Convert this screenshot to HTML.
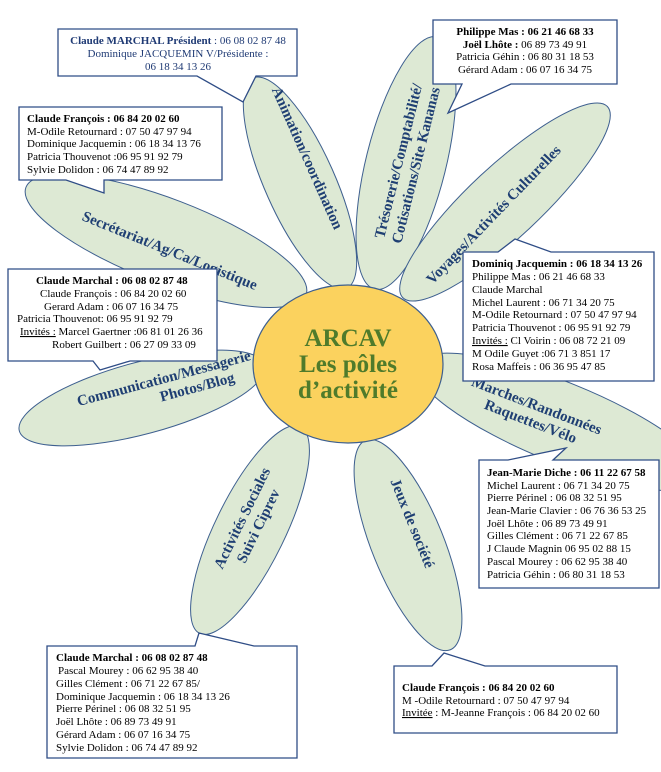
<!DOCTYPE html>
<html><head><meta charset="utf-8"><style>
html,body{margin:0;padding:0;background:#fff}
svg{display:block}
text{font-family:"Liberation Serif",serif}
.t{font-size:11px;fill:#000}
.b{font-weight:bold}
.p{fill:#dde9d4;stroke:#3d5f8f;stroke-width:1}
.bx{fill:#fff;stroke:#2f4d86;stroke-width:1.3}
.pl{font-size:15px;font-weight:bold;fill:#1f3f73}
</style></head><body>
<svg width="661" height="772" viewBox="0 0 661 772" xmlns="http://www.w3.org/2000/svg">
<!-- petals -->
<ellipse class="p" cx="300" cy="183" rx="115" ry="35" transform="rotate(66 300 183)"/>
<ellipse class="p" cx="406" cy="163" rx="130" ry="40" transform="rotate(-76 406 163)"/>
<ellipse class="p" cx="505" cy="202" rx="140" ry="36" transform="rotate(-43 505 202)"/>
<ellipse class="p" cx="166" cy="241" rx="150" ry="42" transform="rotate(21 166 241)"/>
<ellipse class="p" cx="142" cy="398" rx="127" ry="36" transform="rotate(-15 142 398)"/>
<ellipse class="p" cx="560" cy="422" rx="155" ry="40" transform="rotate(22 560 422)"/>
<ellipse class="p" cx="250" cy="530" rx="115" ry="35" transform="rotate(116 250 530)"/>
<ellipse class="p" cx="408" cy="545" rx="113" ry="36" transform="rotate(68 408 545)"/>
<!-- center -->
<ellipse cx="348" cy="364" rx="95" ry="79" fill="#fbd25e" stroke="#3d5f8f" stroke-width="1.2"/>
<g font-family="Liberation Serif,serif" font-weight="bold" font-size="25" fill="#4f7b2b" text-anchor="middle">
<text x="348" y="346">ARCAV</text>
<text x="348" y="372">Les pôles</text>
<text x="348" y="398">d’activité</text>
</g>
<!-- petal labels -->
<text class="pl" text-anchor="middle" transform="translate(303,160) rotate(66)">Animation/coordination</text>
<g transform="translate(407,163) rotate(-76)"><text class="pl" text-anchor="middle" y="-4">Trésorerie/Comptabilité/</text><text class="pl" text-anchor="middle" y="14">Cotisations/Site Kananas</text></g>
<text class="pl" text-anchor="middle" transform="translate(497,218) rotate(-46)">Voyages/Activités Culturelles</text>
<text class="pl" text-anchor="middle" transform="translate(168,255) rotate(22)">Secrétariat/Ag/Ca/Logistique</text>
<g transform="translate(165,383) rotate(-15)"><text class="pl" text-anchor="middle" y="0">Communication/Messagerie</text><text class="pl" text-anchor="middle" x="30" y="17">Photos/Blog</text></g>
<g transform="translate(535,410) rotate(21)"><text class="pl" text-anchor="middle" y="0">Marches/Randonnées</text><text class="pl" text-anchor="middle" y="17">Raquettes/Vélo</text></g>
<g transform="translate(250,522) rotate(-64)"><text class="pl" text-anchor="middle" y="-4">Activités Sociales</text><text class="pl" text-anchor="middle" y="14">Suivi Ciprev</text></g>
<text class="pl" text-anchor="middle" transform="translate(408,525) rotate(68)">Jeux de société</text>

<!-- boxes with tails -->
<path class="bx" d="M58,29 H297 V76 H256 L243,102 L197,76 H58 Z"/>
<path class="bx" d="M433,20 H617 V84 H511 L448,113 L462,84 H433 Z"/>
<path class="bx" d="M19,107 H222 V180 H104 V193 L66,180 H19 Z"/>
<path class="bx" d="M8,269 H217 V361 H130 L100,370 L93,361 H8 Z"/>
<path class="bx" d="M463,252 H498 L515,239 L551,252 H654 V381 H463 Z"/>
<path class="bx" d="M479,460 H508 L566,448 L553,460 H659 V588 H479 Z"/>
<path class="bx" d="M47,646 H195 L199,633 L254,646 H297 V758 H47 Z"/>
<path class="bx" d="M394,666 H432 L444,653 L485,666 H617 V733 H394 Z"/>

<!-- box A -->
<g font-size="11" fill="#1f3a74" text-anchor="middle">
<text x="178" y="44"><tspan font-weight="bold">Claude MARCHAL Président</tspan> : 06 08 02 87 48</text>
<text x="178" y="57">Dominique JACQUEMIN V/Présidente :</text>
<text x="178" y="70">06 18 34 13 26</text>
</g>
<!-- box B -->
<g class="t" text-anchor="middle">
<text class="t" x="525" y="35"><tspan font-weight="bold">Philippe Mas :  06 21 46 68 33</tspan></text>
<text class="t" x="525" y="48"><tspan font-weight="bold">Joël Lhôte :</tspan> 06 89 73 49 91</text>
<text class="t" x="525" y="60">Patricia Géhin : 06 80 31 18 53</text>
<text class="t" x="525" y="73">Gérard Adam : 06 07 16 34 75</text>
</g>
<!-- box C -->
<text class="t b" x="27" y="122">Claude François : 06 84 20 02 60</text>
<text class="t" x="27" y="135">M-Odile Retournard : 07 50 47 97 94</text>
<text class="t" x="27" y="147">Dominique Jacquemin : 06 18 34 13 76</text>
<text class="t" x="27" y="160">Patricia Thouvenot :06 95 91 92 79</text>
<text class="t" x="27" y="173">Sylvie Dolidon : 06 74 47 89 92</text>
<!-- box D -->
<text class="t b" x="36" y="284">Claude Marchal : 06 08 02 87 48</text>
<text class="t" x="40" y="297">Claude François : 06 84 20 02 60</text>
<text class="t" x="44" y="310">Gerard Adam : 06 07 16 34 75</text>
<text class="t" x="17" y="322">Patricia Thouvenot: 06 95 91 92 79</text>
<text class="t" x="20" y="335"><tspan text-decoration="underline">Invités :</tspan> Marcel Gaertner :06 81 01 26 36</text>
<text class="t" x="52" y="348">Robert Guilbert : 06 27 09 33 09</text>
<!-- box E -->
<text class="t b" x="472" y="267">Dominiq Jacquemin : 06 18 34 13 26</text>
<text class="t" x="472" y="280">Philippe Mas : 06 21 46 68 33</text>
<text class="t" x="472" y="293">Claude Marchal</text>
<text class="t" x="472" y="306">Michel Laurent : 06 71 34 20 75</text>
<text class="t" x="472" y="318">M-Odile Retournard : 07 50 47 97 94</text>
<text class="t" x="472" y="331">Patricia Thouvenot : 06 95 91 92 79</text>
<text class="t" x="472" y="344"><tspan text-decoration="underline">Invités :</tspan> Cl Voirin : 06 08 72 21 09</text>
<text class="t" x="472" y="357">M Odile Guyet :06 71 3 851 17</text>
<text class="t" x="472" y="370">Rosa Maffeis : 06 36 95 47 85</text>
<!-- box F -->
<text class="t b" x="487" y="476">Jean-Marie Diche : 06 11 22 67 58</text>
<text class="t" x="487" y="489">Michel Laurent : 06 71 34 20 75</text>
<text class="t" x="487" y="501">Pierre Périnel : 06 08 32 51 95</text>
<text class="t" x="487" y="514">Jean-Marie Clavier : 06 76 36 53 25</text>
<text class="t" x="487" y="527">Joël Lhôte : 06 89 73 49 91</text>
<text class="t" x="487" y="539">Gilles Clément : 06 71 22 67 85</text>
<text class="t" x="487" y="552">J Claude Magnin 06 95 02 88 15</text>
<text class="t" x="487" y="565">Pascal Mourey : 06 62 95 38 40</text>
<text class="t" x="487" y="578">Patricia Géhin : 06 80 31 18 53</text>
<!-- box G -->
<text class="t b" x="56" y="661">Claude Marchal : 06 08 02 87 48</text>
<text class="t" x="58" y="674">Pascal Mourey : 06 62 95 38 40</text>
<text class="t" x="56" y="687">Gilles Clément : 06 71 22 67 85/</text>
<text class="t" x="56" y="700">Dominique Jacquemin : 06 18 34 13 26</text>
<text class="t" x="56" y="712">Pierre Périnel : 06 08 32 51 95</text>
<text class="t" x="56" y="725">Joël Lhôte : 06 89 73 49 91</text>
<text class="t" x="56" y="738">Gérard Adam : 06 07 16 34 75</text>
<text class="t" x="56" y="751">Sylvie Dolidon : 06 74 47 89 92</text>
<!-- box H -->
<text class="t b" x="402" y="691">Claude François : 06 84 20 02 60</text>
<text class="t" x="402" y="704">M -Odile Retournard : 07 50 47 97 94</text>
<text class="t" x="402" y="716"><tspan text-decoration="underline">Invitée</tspan> : M-Jeanne François : 06 84 20 02 60</text>
</svg>
</body></html>
